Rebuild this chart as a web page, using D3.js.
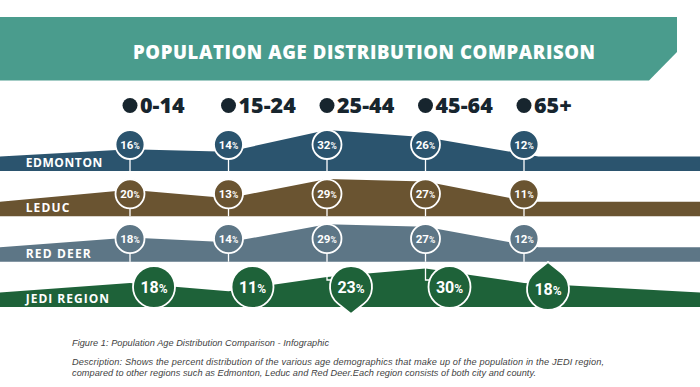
<!DOCTYPE html>
<html><head><meta charset="utf-8">
<script src="https://cdn.jsdelivr.net/npm/d3@7"></script>
<style>html,body{margin:0;padding:0;background:#fff;} svg{display:block}</style>
</head><body>
<svg id="c" width="700" height="387"></svg>
<script>
// ---- data ----
const ageGroups = ["0-14", "15-24", "25-44", "45-64", "65+"];
const regions = ["EDMONTON", "LEDUC", "RED DEER", "JEDI REGION"];
const edmonton = [16, 14, 32, 26, 12];
const leduc = [20, 13, 29, 27, 11];
const redDeer = [18, 14, 29, 27, 12];
const jedi = [18, 11, 23, 30, 18];
const titleText = "POPULATION AGE DISTRIBUTION COMPARISON";
const captionTitle = "Figure 1: Population Age Distribution Comparison - Infographic";
const captionLines = [
  "Description: Shows the percent distribution of the various age demographics that make up of the population in the JEDI region,",
  "compared to other regions such as Edmonton, Leduc and Red Deer.Each region consists of both city and county."
];

// ---- styles / layout ----
const seriesByRegion = [edmonton, leduc, redDeer, jedi];
const regionColors = ["#2b546e", "#6a5431", "#5d7686", "#1e6239"];
const jediMarkers = ["circle", "circle", "dropDown", "circle", "dropUp"];
const W = 700, H = 387;
const svg = d3.select("#c");
svg.append("rect").attr("width", W).attr("height", H).attr("fill", "#fff");

const x = d3.scalePoint().domain(ageGroups).range([130, 524]);
const xJ = d3.scalePoint().domain(ageGroups).range([154, 548]);
const hScale = d3.scaleLinear().domain([0, 30]).range([2.5, 38.5]);
const bottom = d3.scalePoint().domain(regions).range([171, 307]);
const circleOffset = [26.5, 22.5, 23, 20];
const edgeVal = 10;

function fit(sel, target) {
  const n = sel.text().length;
  const w = sel.node().getComputedTextLength();
  sel.attr("letter-spacing", ((target - w) / (n - 1)).toFixed(3));
}

// ---- banner ----
svg.append("path")
  .attr("d", "M0,17 L677,17 L677,52 L649,80.5 L0,80.5 Z")
  .attr("fill", "#4a9c8d");
const t = svg.append("text").attr("x", 133).attr("y", 58.5)
  .attr("fill", "#fff").attr("font-family", "'Open Sans', sans-serif")
  .attr("font-weight", 800).attr("font-size", 18.5).text(titleText);
fit(t, 462);

// ---- legend ----
const leg = svg.append("g");
const legWidths = [48, 58, 61, 70, 39];
ageGroups.forEach((a, i) => {
  leg.append("circle").attr("cx", x(a)).attr("cy", 105.5).attr("r", 7.5).attr("fill", "#17252e");
  const lt = leg.append("text").attr("x", x(a) + 10).attr("y", 113.2)
    .attr("fill", "#17252e").attr("font-family", "'Open Sans', sans-serif")
    .attr("font-weight", 800).attr("font-size", 21.5).text(a);
});

// ---- bands ----
const area = d3.area().x(d => d[0]).y0(d => d[2]).y1(d => d[1]).curve(d3.curveLinear);

regions.forEach((reg, ri) => {
  const vals = seriesByRegion[ri];
  const b = bottom(reg);
  const isJ = ri === 3;
  const r = isJ ? 21 : 14.5;
  const pts = [[0, b - hScale(edgeVal), b]];
  vals.forEach((v, i) => pts.push([x(ageGroups[i]), b - hScale(v), b]));
  if (!isJ) pts.push([x(ageGroups[4]) + r, b - hScale(edgeVal), b]);
  pts.push([W, b - hScale(edgeVal), b]);
  const g = svg.append("g");
  g.append("path").attr("d", area(pts)).attr("fill", regionColors[ri]);

  // region label
  g.append("text").attr("x", 25.7).attr("y", b - 4)
    .attr("fill", "#fff").attr("font-family", "'Open Sans', sans-serif")
    .attr("font-weight", 700).attr("font-size", 12).text(reg);

  const cy = b - circleOffset[ri];
  if (!isJ) {
    ageGroups.forEach((a, i) => {
      g.append("line").attr("x1", x(a)).attr("x2", x(a)).attr("y1", cy).attr("y2", b)
        .attr("stroke", "#fff").attr("stroke-width", 1.3);
      g.append("circle").attr("cx", x(a)).attr("cy", cy).attr("r", r)
        .attr("fill", regionColors[ri]).attr("stroke", "#fff").attr("stroke-width", 1.8);
      const tx = g.append("text").attr("x", x(a)).attr("y", cy + 4)
        .attr("text-anchor", "middle").attr("fill", "#fff")
        .attr("font-family", "Roboto, sans-serif").attr("font-weight", 700);
      tx.append("tspan").attr("font-size", 11.5).text(vals[i]);
      tx.append("tspan").attr("font-size", 8.5).text("%");
    });
  } else {
    const jy = 280;
    const prevB = bottom(regions[2]);
    ageGroups.forEach((a, i) => {
      const cx = xJ(a);
      const ccy = jediMarkers[i] === "dropUp" ? cy + 2 : cy;
      g.append("path")
        .attr("d", `M${x(a)},${prevB} V${jy} H${cx}`)
        .attr("fill", "none").attr("stroke", "#fff").attr("stroke-width", 1.3);
      if (jediMarkers[i] === "circle") {
        g.append("circle").attr("cx", cx).attr("cy", ccy).attr("r", r)
          .attr("fill", regionColors[ri]).attr("stroke", "#fff").attr("stroke-width", 1.8);
      } else {
        const dir = jediMarkers[i] === "dropDown" ? 1 : -1;
        const dist = 27;
        const phi = Math.acos(r / dist);
        const tip = [cx, ccy + dir * dist];
        const p1 = [cx + r * Math.sin(phi), ccy + dir * r * Math.cos(phi)];
        const p2 = [cx - r * Math.sin(phi), ccy + dir * r * Math.cos(phi)];
        const sweep = dir > 0 ? 0 : 1;
        const d = `M${tip[0]},${tip[1]} L${p1[0]},${p1[1]} A${r},${r} 0 1 ${sweep} ${p2[0]},${p2[1]} Z`;
        g.append("path").attr("d", d)
          .attr("fill", regionColors[ri]).attr("stroke", "#fff").attr("stroke-width", 1.8)
          .attr("stroke-linejoin", "round");
      }
      const tx = g.append("text").attr("x", cx).attr("y", ccy + 5.6)
        .attr("text-anchor", "middle").attr("fill", "#fff")
        .attr("font-family", "Roboto, sans-serif").attr("font-weight", 700);
      tx.append("tspan").attr("font-size", 16).text(vals[i]);
      tx.append("tspan").attr("font-size", 12).text("%");
    });
  }
  fit(g.select("text"), [76.6, 43.6, 65, 83.3][ri]);
});

// ---- caption ----
const cap = svg.append("g").attr("fill", "#3f3f3f")
  .attr("font-family", "'Liberation Sans', Arial, sans-serif")
  .attr("font-style", "italic").attr("font-size", 9.2);
const c1 = cap.append("text").attr("x", 72).attr("y", 346).text(captionTitle);
fit(c1, 257);
const c2 = cap.append("text").attr("x", 72).attr("y", 365).text(captionLines[0]);
fit(c2, 532);
const c3 = cap.append("text").attr("x", 72).attr("y", 375.5).text(captionLines[1]);
fit(c3, 464);
</script>
</body></html>
